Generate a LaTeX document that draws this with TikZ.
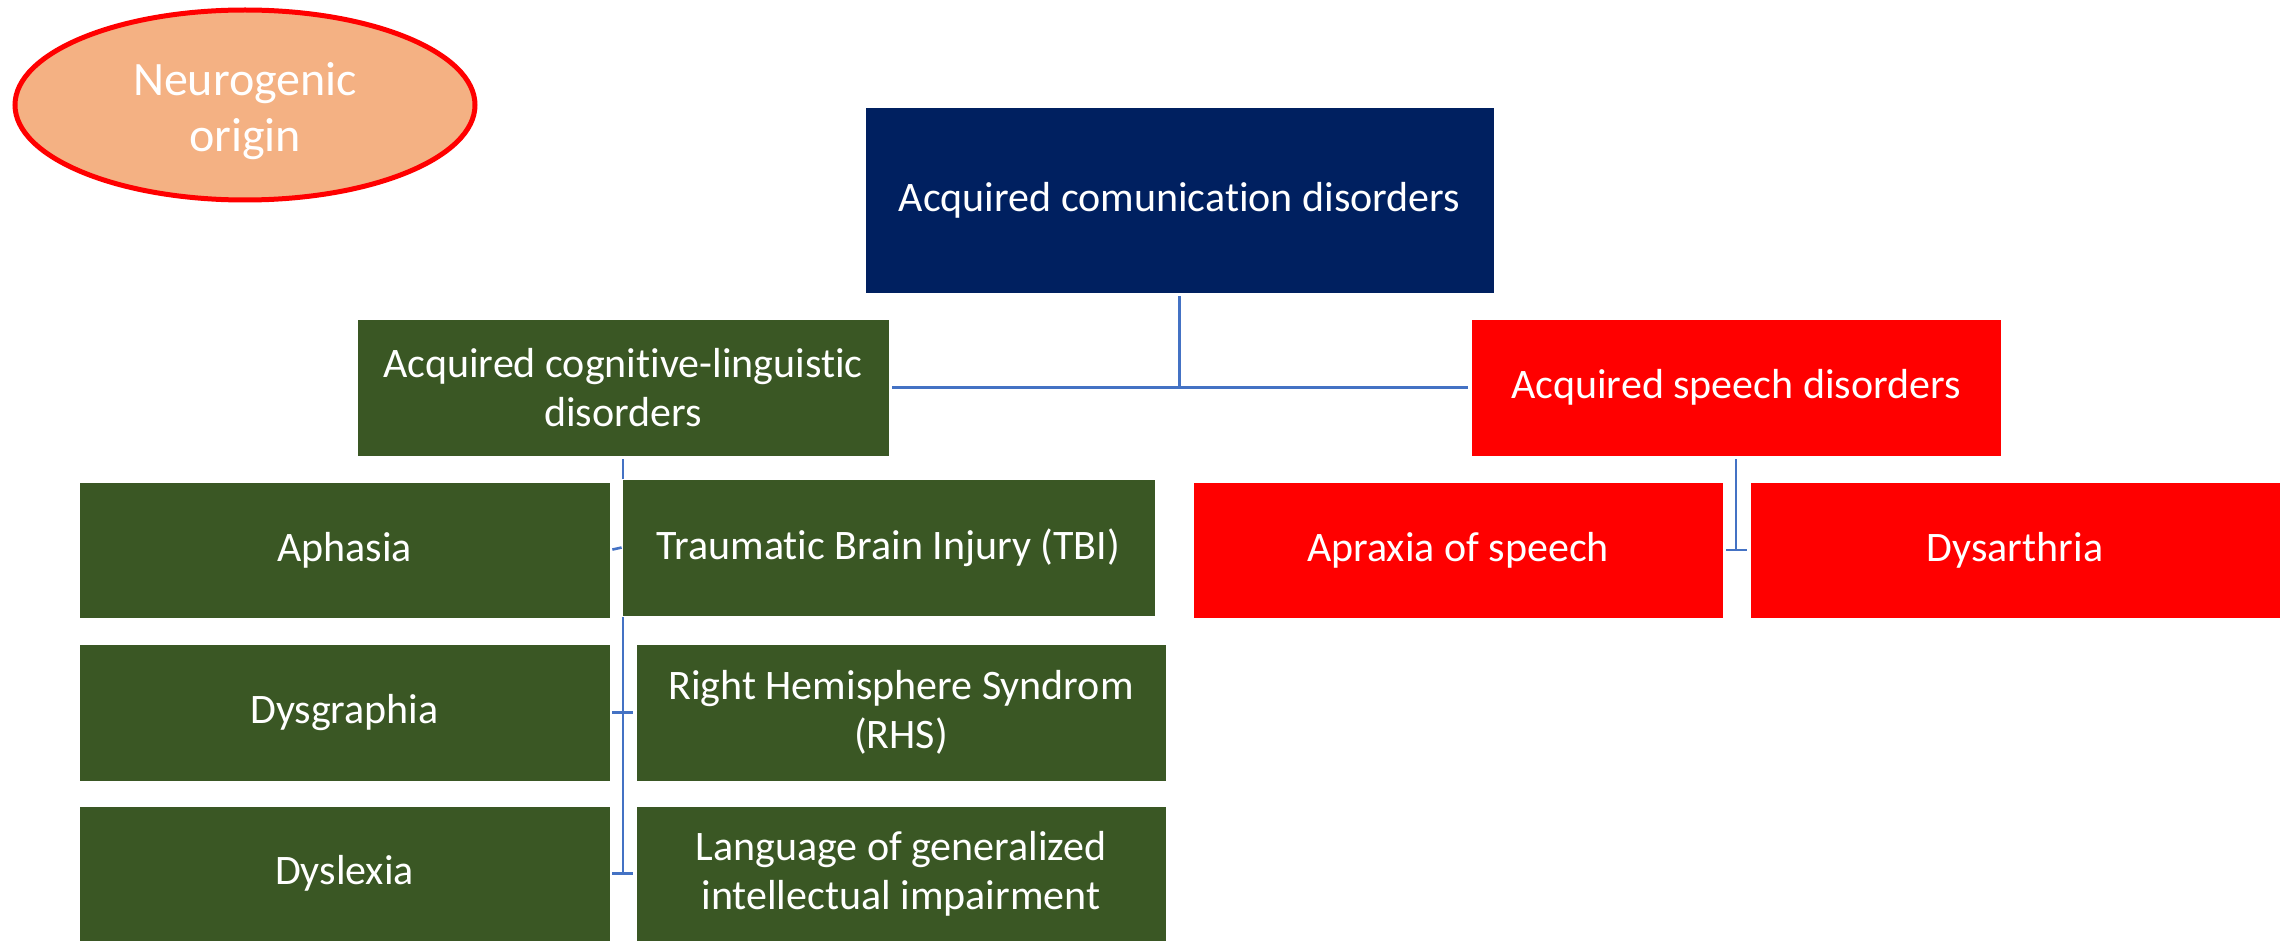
\documentclass[tikz,border=0pt]{standalone}
\usepackage{fontspec}
\setmainfont{Carlito}[Ligatures=NoCommon]
\usetikzlibrary{shapes.geometric}
\pgfdeclarelayer{bg}
\pgfsetlayers{bg,main}
\definecolor{navybox}{HTML}{002060}
\definecolor{greenbox}{HTML}{3A5724}
\definecolor{redbox}{HTML}{FF0000}
\definecolor{linkblue}{HTML}{4472C4}
\definecolor{peach}{HTML}{F4B183}
\tikzset{
  box/.style={rectangle, inner sep=0pt, align=center, text=white,
    draw=white, line width=0.8pt,
    font=\fontsize{42}{49}\selectfont},
  navy/.style={box, fill=navybox},
  green/.style={box, fill=greenbox},
  redb/.style={box, fill=redbox},
  conn/.style={draw=linkblue, line width=2.6pt},
}
\begin{document}
\begin{tikzpicture}[x=1pt,y=-1pt]
\useasboundingbox (0,0) rectangle (2285,941);

% origin label
\node[ellipse, draw=red, line width=5pt, fill=peach, inner sep=0pt,
  minimum width=460, minimum height=190] (origin) at (245,105) {};
\node[text=white, align=center, inner sep=0pt,
  font=\fontsize{48}{56}\selectfont] (origintext) at ([yshift=-6pt]origin.center) {Neurogenic\\origin};

% root
\node[navy, minimum width=629, minimum height=186] (root) at (1179.5,200) {Acquired comunication disorders};

% second level
\node[green, minimum width=532, minimum height=137] (cog) at (623,387.5) {Acquired cognitive-linguistic\\disorders};
\node[redb, minimum width=530, minimum height=137] (speech) at (1736,387.5) {Acquired speech disorders};

% cognitive-linguistic children
\node[green, minimum width=531, minimum height=136] (aphasia) at (344.5,550) {Aphasia};
\node[green, minimum width=533, minimum height=137] (tbi) at (888.5,547.5) {Traumatic Brain Injury (TBI)};
\node[green, minimum width=531, minimum height=137] (dysgraphia) at (344.5,712.5) {Dysgraphia};
\node[green, minimum width=530, minimum height=137] (rhs) at (901,712.5) {Right Hemisphere Syndrom\\(RHS)};
\node[green, minimum width=531, minimum height=135] (dyslexia) at (344.5,873.5) {Dyslexia};
\node[green, minimum width=530, minimum height=135] (lang) at (901,873.5) {Language of generalized\\intellectual impairment};

% speech children
\node[redb, minimum width=530, minimum height=136] (apraxia) at (1458,550) {Apraxia of speech};
\node[redb, minimum width=530, minimum height=136] (dysarthria) at (2015,550) {Dysarthria};

% connectors
\begin{pgfonlayer}{bg}
\coordinate (hub) at (root.south |- cog.east);
\draw[conn, shorten <=3pt] (root.south) -- (hub);
\draw[conn, shorten <=3pt, shorten >=3pt] (cog.east) -- (speech.west);

\coordinate (cogend) at (cog.south |- dyslexia.east);
\draw[conn, shorten <=3pt] (cog.south) -- (cogend);
\draw[conn, shorten <=2pt] (aphasia.east) -- (tbi.west);
\draw[conn, shorten <=2pt, shorten >=3pt] (dysgraphia.east) -- (rhs.west);
\draw[conn, shorten <=2pt, shorten >=3pt] (dyslexia.east) -- (lang.west);

\coordinate (speechend) at (speech.south |- apraxia.east);
\draw[conn, shorten <=3pt] (speech.south) -- (speechend);
\draw[conn, shorten <=3pt, shorten >=3pt] (apraxia.east) -- (dysarthria.west);
\end{pgfonlayer}
\end{tikzpicture}
\end{document}
